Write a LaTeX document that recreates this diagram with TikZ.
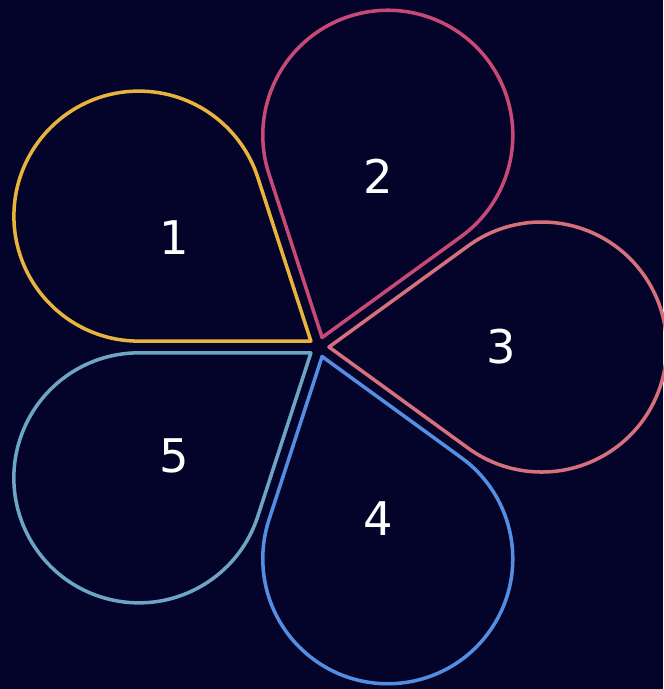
\documentclass[tikz,border=0pt]{standalone}
\usepackage{fontspec}
\setmainfont{DejaVu Sans}
\usepackage{tikz}

\definecolor{bgnavy}{RGB}{4,3,42}
\definecolor{petalA}{RGB}{232,180,62}
\definecolor{petalB}{RGB}{200,72,118}
\definecolor{petalC}{RGB}{214,112,124}
\definecolor{petalD}{RGB}{84,142,226}
\definecolor{petalE}{RGB}{108,166,196}

\begin{document}
\begin{tikzpicture}[x=0.025cm, y=0.025cm, petal/.style={line width=2.5pt, line join=round}, num/.style={text=white, font=\fontsize{33}{33}\selectfont, inner sep=0pt}]
	\fill[bgnavy] (-319,-342) rectangle (344,347);
	\useasboundingbox (-319,-342) rectangle (344,347);
	% tip 10 from the centre, edges at +-36, tangent length 172, radius 125
	\draw[petal, petalA] (144:10) -- ++(180:172) arc[start angle=270, delta angle=-252, radius=125] -- cycle;
	\draw[petal, petalB] (72:10) -- ++(108:172) arc[start angle=198, delta angle=-252, radius=125] -- cycle;
	\draw[petal, petalC] (0:10) -- ++(36:172) arc[start angle=126, delta angle=-252, radius=125] -- cycle;
	\draw[petal, petalD] (-72:10) -- ++(-36:172) arc[start angle=54, delta angle=-252, radius=125] -- cycle;
	\draw[petal, petalE] (-144:10) -- ++(-108:172) arc[start angle=-18, delta angle=-252, radius=125] -- cycle;
	\node[num] (one) at (143:181) {1};
	\node[num] (two) at (71:181) {2};
	\node[num] (three) at (0:182) {3};
	\node[num] (four) at (-71:181) {4};
	\node[num] (five) at (-143:181) {5};
\end{tikzpicture}
\end{document}
